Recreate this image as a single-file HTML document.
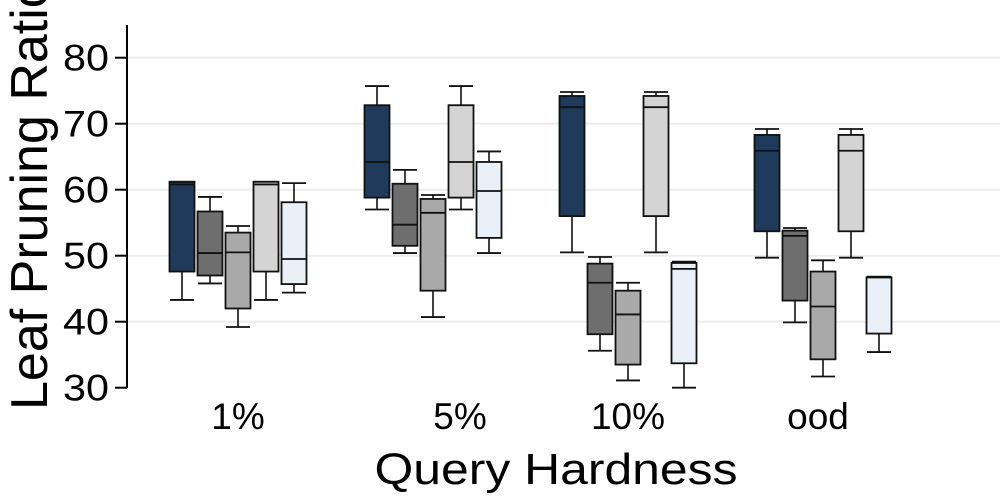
<!DOCTYPE html>
<html><head><meta charset="utf-8"><style>
html,body{margin:0;padding:0;background:#fff;}
svg{display:block;font-family:"Liberation Sans",Arial,sans-serif;}
</style></head><body>
<svg id="chart" width="1000" height="500" viewBox="0 0 1000 500">
<g id="grid"></g>
<g id="boxes"></g>
<g id="axis"></g>
<g id="xlabels"></g>
<text x="556" y="484" font-size="44" text-anchor="middle" textLength="363" lengthAdjust="spacingAndGlyphs" fill="#000">Query Hardness</text>
<text transform="translate(47,410) rotate(-90)" font-size="52" text-anchor="start" fill="#000">Leaf Pruning Ratio</text>
</svg>
<script>
const categories = ["1%","5%","10%","ood"];
const yTicks = [30,40,50,60,70,80];
// each series: [whiskerLow, q1, median, q3, whiskerHigh] per category
const series1 = [[43.3,47.6,60.8,61.2,61.2],[57.0,58.8,64.2,72.8,75.7],[50.5,56.0,72.5,74.2,74.8],[49.7,53.7,65.9,68.3,69.2]];
const series2 = [[45.8,47.0,50.4,56.7,58.9],[50.4,51.5,54.7,60.9,63.0],[35.6,38.1,45.9,48.8,49.8],[39.9,43.2,53.0,53.8,54.2]];
const series3 = [[39.2,42.0,50.5,53.5,54.5],[40.7,44.7,56.5,58.6,59.2],[31.1,33.5,41.1,44.7,45.9],[31.7,34.3,42.3,47.6,49.3]];
const series4 = [[43.3,47.6,60.8,61.2,61.2],[57.0,58.8,64.2,72.8,75.7],[50.5,56.0,72.5,74.2,74.8],[49.7,53.7,65.9,68.3,69.2]];
const series5 = [[44.4,45.7,49.5,58.1,61.0],[50.4,52.7,59.8,64.2,65.8],[30.0,33.7,48.0,48.9,49.1],[35.4,38.2,46.8,46.7,46.8]];
const allSeries = [series1,series2,series3,series4,series5];
const colors = ["#1f3a5a","#6e6e6e","#a9a9a9","#d4d4d4","#e9f0f7"];
const labelNudge = [0,27,0,-5];

const NS="http://www.w3.org/2000/svg";
function y(v){return 387.7-(v-30)*6.6;}
function groupX(i){return 238+i*195;}
function mk(tag,attrs,parent){const e=document.createElementNS(NS,tag);for(const k in attrs)e.setAttribute(k,attrs[k]);parent.appendChild(e);return e;}
const grid=document.getElementById('grid'),axis=document.getElementById('axis'),boxes=document.getElementById('boxes'),xl=document.getElementById('xlabels');
yTicks.forEach(t=>{
  if(t>30){const g=mk('line',{x1:127,x2:1000,y1:y(t),y2:y(t),stroke:'#ededed','stroke-width':2},grid);
  
  }
  const tk=mk('line',{x1:115,x2:127,y1:y(t),y2:y(t),stroke:'#000','stroke-width':2},axis);
  
  
  const tx=mk('text',{x:109,y:y(t)+13,'font-size':37,'text-anchor':'end',fill:'#000',textLength:46,lengthAdjust:'spacingAndGlyphs'},axis);
  tx.textContent=t;
  
  
});
const al=mk('line',{x1:127,x2:127,y1:25,y2:388,stroke:'#000','stroke-width':2},axis);


categories.forEach((c,i)=>{
  const t=mk('text',{x:groupX(i)+labelNudge[i],y:429,'font-size':37,'text-anchor':'middle',fill:'#000'},xl);
  t.textContent=c;
  
  
});
const bw=25,step=28;
allSeries.forEach((s,si)=>{
  s.forEach((d,ci)=>{
    const cx=groupX(ci)+(si-2)*step;
    const g=mk('g',{},boxes);
    
    
    const [wl,q1,md,q3,wh]=d;
    mk('line',{x1:cx,x2:cx,y1:y(wl),y2:y(q1),stroke:'#111','stroke-width':1.6},g);
    mk('line',{x1:cx,x2:cx,y1:y(wh),y2:y(q3),stroke:'#111','stroke-width':1.6},g);
    mk('line',{x1:cx-12,x2:cx+12,y1:y(wl),y2:y(wl),stroke:'#111','stroke-width':1.8},g);
    mk('line',{x1:cx-12,x2:cx+12,y1:y(wh),y2:y(wh),stroke:'#111','stroke-width':1.8},g);
    const qt=Math.max(q1,q3),qb=Math.min(q1,q3);
    mk('rect',{x:cx-bw/2,y:y(qt),width:bw,height:Math.max(1,y(qb)-y(qt)),fill:colors[si],stroke:'#111','stroke-width':1.8},g);
    mk('line',{x1:cx-bw/2,x2:cx+bw/2,y1:y(md),y2:y(md),stroke:'#111','stroke-width':1.8},g);
  });
});
</script>
</body></html>
